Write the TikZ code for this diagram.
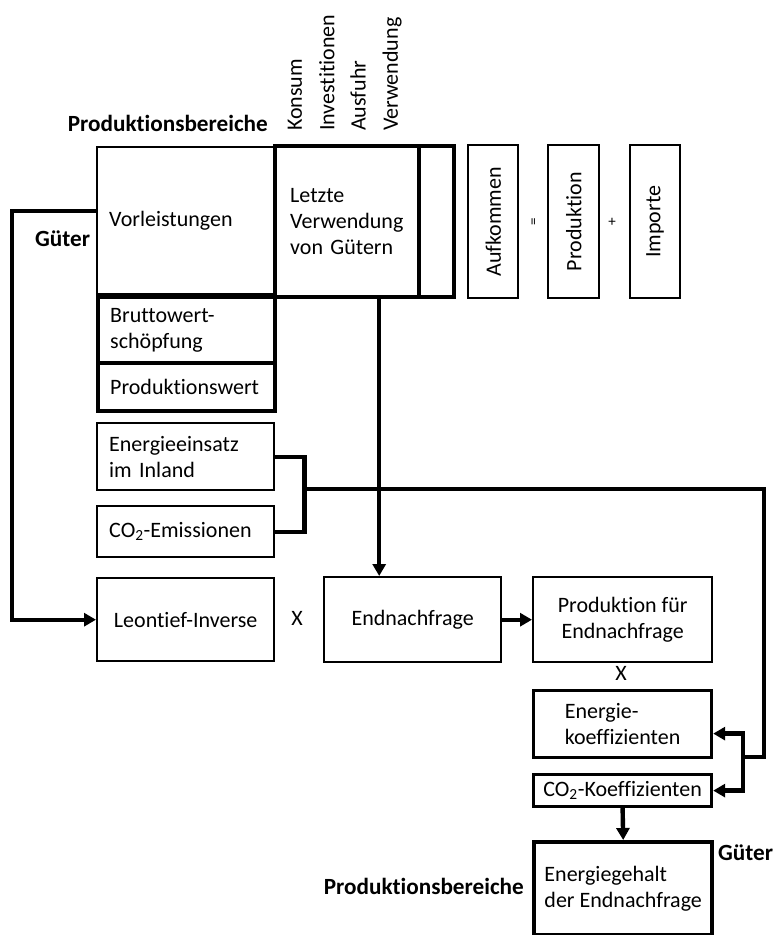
\documentclass[tikz,border=0pt]{standalone}
\usepackage{fontspec}
\setmainfont[Ligatures=NoCommon,RawFeature={-calt;-clig;-dlig}]{Carlito}
\usetikzlibrary{arrows.meta,calc}
\tikzset{
  thinbox/.style={draw, line width=2.4pt, inner sep=0pt, font=\bodyfont},
  medbox/.style={draw, line width=3.2pt, inner sep=0pt, font=\bodyfont},
  thickbox/.style={draw, line width=4.4pt, inner sep=0pt, font=\bodyfont},
  conn/.style={line width=4.4pt},
  medconn/.style={line width=3.4pt},
  tip/.style={-{Triangle[length=12pt,width=13pt]}},
  lbl/.style={inner sep=0pt, font=\bodyfont},
  blbl/.style={inner sep=0pt, font=\boldfont},
}
\newcommand{\bodyfont}{\fontsize{22}{26}\selectfont}
\newcommand{\boldfont}{\fontsize{23.2}{26}\selectfont\bfseries}
\begin{document}
\begin{tikzpicture}[x=1pt,y=-1pt]
\useasboundingbox (0,0) rectangle (772,935);
% headings
\node[blbl, anchor=base east] (prodA) at (268,131) {Produktionsbereiche};
\node[blbl, anchor=base west] (gueterA) at (35,246) {Güter};
% rotated column labels
\node[lbl, rotate=90, anchor=west] (konsum) at (295,131) {Konsum};
\node[lbl, rotate=90, anchor=west] (invest) at (327,131) {Investitionen};
\node[lbl, rotate=90, anchor=west] (ausfuhr) at (358,131) {Ausfuhr};
\node[lbl, rotate=90, anchor=west] (verw) at (392,131) {Verwendung};
% top table
\node[thinbox, anchor=north west, minimum width=177pt, minimum height=147pt, text width=153pt, inner xsep=12pt, align=left] (vorl) at (96,146) {Vorleistungen};
\node[thickbox, anchor=north west, minimum width=144pt, minimum height=151pt, text width=114pt, inner xsep=15pt, align=left] (letzte) at (273,144) {Letzte\\Verwendung\\von Gütern};
\node[thickbox, anchor=north west, minimum width=35pt, minimum height=151pt] (extra) at (417,144) {};
% Aufkommen = Produktion + Importe
\node[thinbox, anchor=north west, minimum width=50pt, minimum height=153pt] (aufk) at (467,144) {};
\node[lbl, rotate=90] (aufkT) at (aufk.center) {Aufkommen};
\node[thinbox, anchor=north west, minimum width=51pt, minimum height=153pt] (prodB) at (547,144) {};
\node[lbl, rotate=90] (prodBT) at (prodB.center) {Produktion};
\node[thinbox, anchor=north west, minimum width=50pt, minimum height=153pt] (imp) at (629,144) {};
\node[lbl, rotate=90] (impT) at (imp.center) {Importe};
\node[inner sep=0pt, font=\fontsize{15}{16}\selectfont, rotate=90] (eq) at (535,222) {=};
\node[inner sep=0pt, font=\fontsize{15}{16}\selectfont] (plus) at (612,222) {+};
% rows below
\node[thickbox, anchor=north west, minimum width=177pt, minimum height=66pt, text width=153pt, inner xsep=12pt, align=left] (brutto) at (96,295) {Bruttowert-\\schöpfung};
\node[thickbox, anchor=north west, minimum width=177pt, minimum height=48pt, text width=153pt, inner xsep=12pt, align=left] (pw) at (96,361) {Produktionswert};
\node[thinbox, anchor=north west, minimum width=177pt, minimum height=67pt, text width=153pt, inner xsep=12pt, align=left] (energ) at (96,422) {Energieeinsatz\\im Inland};
\node[thinbox, anchor=north west, minimum width=177pt, minimum height=51pt, text width=153pt, inner xsep=12pt, align=left] (co2e) at (96,505) {CO\textsubscript{2}-Emissionen};
% calculation row
\node[thinbox, anchor=north west, minimum width=177pt, minimum height=83pt] (leon) at (96,577) {Leontief-Inverse};
\node[lbl] (x1) at (297,618) {X};
\node[thinbox, anchor=north west, minimum width=177pt, minimum height=85pt] (endn) at (323,576) {Endnachfrage};
\node[thinbox, anchor=north west, minimum width=179pt, minimum height=85pt, align=center] (pfe) at (532,576) {Produktion für\\Endnachfrage};
\node[lbl] (x2) at (621,673) {X};
\node[medbox, anchor=north west, minimum width=178pt, minimum height=67pt, align=left] (ek) at (532,689) {Energie-\\koeffizienten};
\node[medbox, anchor=north west, minimum width=178pt, minimum height=32pt] (co2k) at (532,773) {CO\textsubscript{2}-Koeffizienten};
\node[thickbox, anchor=north west, minimum width=178pt, minimum height=93pt, align=left] (eg) at (532,840) {Energiegehalt\\der Endnachfrage};
\node[blbl, anchor=base west] (gueterB) at (718,860) {Güter};
\node[blbl, anchor=base east] (prodC) at (524,894) {Produktionsbereiche};
% connectors
\draw[conn, tip] ([yshift=9.5pt]vorl.west) -- ++(-84,0) |- (leon.west);
\coordinate (ls) at ([xshift=32pt]letzte.south);
\draw[conn, tip] (ls) -- (ls |- endn.north);
\draw[conn] (energ.east) -- ++(29,0) |- (co2e.east);
\coordinate (bm) at (302,489);
\coordinate (rc) at (764,757);
\coordinate (kb) at (743,757);
\draw[medconn] (bm) -| (rc) -- (kb);
\draw[conn, tip] (kb) |- ([yshift=-9.5pt]ek.east);
\draw[conn, tip] (kb) |- (co2k.east);
\draw[conn, tip] (endn.east) -- (pfe.west);
\draw[conn, tip] (co2k.south) -- (eg.north);
\end{tikzpicture}
\end{document}
